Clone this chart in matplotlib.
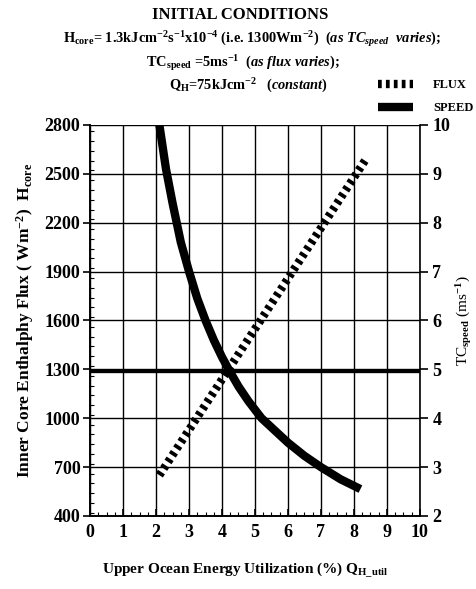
import matplotlib
matplotlib.use('Agg')
import matplotlib.pyplot as plt
from matplotlib.ticker import MultipleLocator
from matplotlib.lines import Line2D

plt.rcParams['font.family'] = 'Liberation Serif'
plt.rcParams['font.weight'] = 'bold'
plt.rcParams['mathtext.fontset'] = 'custom'
plt.rcParams['mathtext.rm'] = 'Liberation Serif:bold'
plt.rcParams['mathtext.bf'] = 'Liberation Serif:bold'
plt.rcParams['mathtext.it'] = 'Liberation Serif:bold:italic'

# flux (left axis, W m^-2) against energy utilization (%)
flux_q = [2.1, 8.4]
flux_h = [650, 2600]

# storm speed (right axis, m/s) against energy utilization (%)
speed_q = [2.1, 2.3, 2.5, 2.75, 3.0, 3.25, 3.5, 3.75, 4.0, 4.2, 4.5, 4.8, 5.2,
           5.6, 6.0, 6.5, 7.0, 7.6, 8.2]
speed_v = [10.0, 9.1, 8.4, 7.6, 7.0, 6.45, 6.0, 5.6, 5.25, 5.0, 4.65, 4.35, 4.0,
           3.75, 3.5, 3.23, 3.0, 2.75, 2.55]

# reference core flux
h_core = 1290

left_ticks = list(range(400, 2801, 300))

fig = plt.figure(figsize=(4.77, 5.89), dpi=100)
ax = fig.add_axes([0.189, 0.124, 0.691, 0.664])
ax2 = ax.twinx()

ax.set_xlim(0, 10)
ax.set_ylim(400, 2800)
ax2.set_ylim(2, 10)

ax.xaxis.set_major_locator(MultipleLocator(1))
ax.xaxis.set_minor_locator(MultipleLocator(0.25))
ax.set_yticks(left_ticks)
ax.yaxis.set_minor_locator(MultipleLocator(60))
ax2.yaxis.set_major_locator(MultipleLocator(1))

ax.grid(True, which='major', color='black', lw=1.0)
ax.set_axisbelow(True)

ax.plot(flux_q, flux_h, color='black', lw=6, ls=(0, (0.45, 0.5)),
        solid_capstyle='butt', dash_capstyle='butt')
ax.axhline(h_core, color='black', lw=2.4)
ax2.plot(speed_q, speed_v, color='black', lw=6.0, solid_capstyle='butt',
         solid_joinstyle='round')

for a in (ax, ax2):
    a.spines['top'].set_visible(False)
    for s in a.spines.values():
        s.set_linewidth(1.2)
ax.spines['right'].set_visible(False)

ax.tick_params(axis='y', which='major', direction='out', length=5, width=1.2,
               labelsize=13, pad=2)
ax.tick_params(axis='y', which='minor', direction='in', length=3, width=0.8)
ax.tick_params(axis='x', which='major', direction='in', length=5, width=1.2,
               labelsize=13, pad=6)
ax.tick_params(axis='x', which='minor', direction='in', length=3, width=0.8)
ax2.tick_params(axis='y', which='major', direction='out', length=6, width=1.2,
                labelsize=13, pad=3)

for lab in ax.get_xticklabels() + ax.get_yticklabels() + ax2.get_yticklabels():
    lab.set_fontweight('bold')

ax.set_ylabel(r'Inner Core Enthalphy Flux ( Wm$^{-2}$)  H$_{\mathrm{core}}$',
              fontsize=12.5, fontweight='bold', labelpad=6)
ax2.set_ylabel(r'TC$_{\mathrm{speed}}$ (ms$^{-1}$)', fontsize=11,
               fontweight='normal', labelpad=3)
ax.set_xlabel(r'Upper Ocean Energy Utilization (%) Q$_{\mathrm{H\_util}}$',
              fontsize=11, fontweight='bold')
ax.xaxis.set_label_coords(0.47, -0.113)

fig.text(0.503, 0.975, 'INITIAL CONDITIONS', ha='center', va='center',
         fontsize=12, fontweight='bold')
fig.text(0.528, 0.933,
         r'H$_{\mathrm{core}}$= 1.3kJcm$^{-2}$s$^{-1}$x10$^{-4}$ (i.e. 1300Wm$^{-2}$)  '
         r'($as\ TC_{speed}\ \ varies$);',
         ha='center', va='center', fontsize=10.4, fontweight='bold')
fig.text(0.510, 0.893,
         r'TC$_{\mathrm{speed}}$ =5ms$^{-1}$  ($as\ flux\ varies$);',
         ha='center', va='center', fontsize=10.4, fontweight='bold')
fig.text(0.52, 0.855,
         r'Q$_{\mathrm{H}}$=75kJcm$^{-2}$   ($constant$)',
         ha='center', va='center', fontsize=10.4, fontweight='bold')

handles = [
    Line2D([], [], color='black', lw=6, ls=(0, (0.45, 0.5)),
           dash_capstyle='butt'),
    Line2D([], [], color='black', lw=6.0, solid_capstyle='butt'),
]
fig.legend(handles, ['FLUX', 'SPEED'], loc='center', bbox_to_anchor=(0.893, 0.836),
           frameon=False, prop={'family': 'Liberation Serif', 'weight': 'bold',
                                'size': 9},
           handlelength=2.8, handletextpad=1.6, labelspacing=0.9)

fig.savefig('out.png', dpi=100)
